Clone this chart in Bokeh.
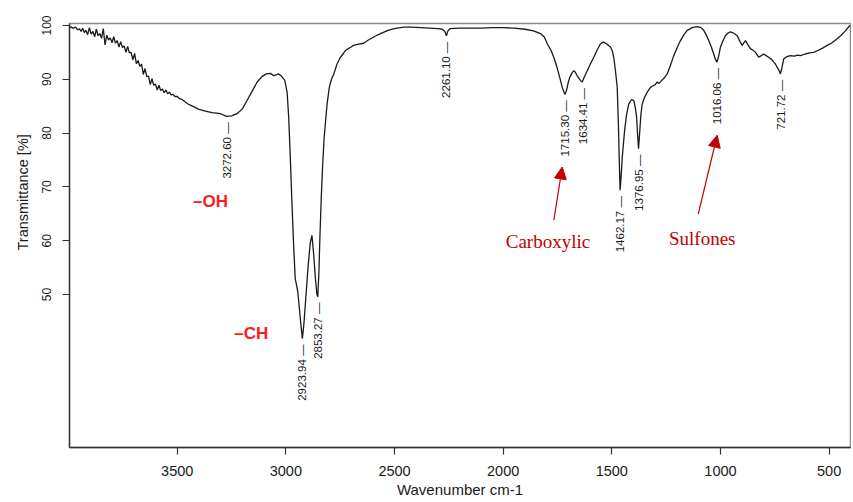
import math
from bokeh.plotting import figure
from bokeh.models import Range1d, FixedTicker, Title, Arrow, NormalHead, ColumnDataSource
from bokeh.embed import file_html
from bokeh.resources import INLINE
from bokeh.core.properties import value

# ---------------- data ----------------
wavenumber = [
    3994, 3980, 3968, 3958, 3950, 3942, 3935, 3928, 3920, 3912, 3904, 3896, 3888, 3880,
    3872, 3864, 3856, 3848, 3840, 3832, 3824, 3816, 3808, 3800, 3792, 3784, 3776, 3768,
    3760, 3752, 3744, 3736, 3728, 3720, 3712, 3704, 3696, 3688, 3680, 3672, 3664, 3656,
    3648, 3640, 3632, 3624, 3616, 3608, 3600, 3592, 3584, 3576, 3568, 3560, 3552, 3544,
    3536, 3528, 3520, 3510, 3500, 3490, 3480, 3470, 3460, 3450, 3430, 3400, 3370, 3340,
    3300, 3273, 3250, 3225, 3200, 3178, 3155, 3132, 3110, 3090, 3071, 3057, 3045, 3035,
    3020, 3005, 2994, 2987, 2980, 2972, 2964, 2957, 2951, 2945, 2938, 2931, 2924, 2917,
    2908, 2898, 2888, 2880, 2872, 2864, 2857, 2853, 2848, 2843, 2837, 2831, 2824, 2817,
    2810, 2800, 2790, 2779, 2765, 2749, 2735, 2725, 2712, 2700, 2689, 2670, 2643, 2620,
    2590, 2564, 2530, 2500, 2458, 2420, 2380, 2340, 2300, 2280, 2268, 2261, 2254, 2245,
    2200, 2150, 2100, 2050, 2000, 1950, 1900, 1860, 1828, 1810, 1797, 1780, 1767, 1755,
    1744, 1735, 1728, 1720, 1715, 1708, 1700, 1693, 1683, 1675, 1668, 1660, 1648, 1640,
    1636, 1628, 1613, 1598, 1583, 1568, 1552, 1545, 1537, 1525, 1515, 1506, 1498, 1491,
    1483, 1475, 1470, 1465, 1462, 1457, 1451, 1441, 1432, 1422, 1410, 1399, 1392, 1386,
    1381, 1377, 1372, 1366, 1360, 1350, 1337, 1322, 1314, 1300, 1291, 1284, 1270, 1258,
    1245, 1230, 1215, 1200, 1184, 1168, 1153, 1130, 1107, 1090, 1077, 1066, 1054, 1042,
    1031, 1022, 1016, 1010, 1000, 988, 977, 965, 953, 940, 923, 910, 900, 892,
    885, 875, 862, 850, 839, 824, 812, 801, 790, 778, 765, 755, 748, 740,
    730, 724, 718, 709, 695, 678, 660, 645, 632, 610, 590, 571, 550, 530,
    509, 490, 470, 447, 425, 405,
]
transmittance = [
    99.8, 99.5, 99.7, 99.2, 99.4, 98.9, 99.5, 98.7, 99.1, 98.3, 99.6, 98.4, 98.9, 97.9,
    99.3, 98.1, 98.5, 97.6, 99.4, 96.4, 98.2, 97.3, 97.7, 96.8, 97.9, 96.7, 97.2, 96.0,
    97.0, 95.9, 96.2, 95.0, 96.1, 94.9, 95.0, 93.6, 94.8, 92.9, 93.5, 92.4, 92.8, 90.9,
    92.0, 90.5, 90.6, 89.0, 90.1, 88.9, 89.1, 88.0, 88.9, 87.9, 88.2, 87.5, 88.0, 87.3,
    87.6, 87.1, 87.2, 86.8, 86.8, 86.4, 86.3, 86.0, 85.7, 85.4, 85.0, 84.4, 84.1, 83.8,
    83.6, 83.1, 83.2, 83.6, 84.5, 86.1, 87.8, 89.5, 90.5, 91.0, 91.1, 90.7, 90.8, 91.0,
    90.6, 89.8, 87.5, 83.0, 76.0, 67.0, 59.0, 53.0, 51.8, 50.5, 47.5, 44.5, 41.8, 44.5,
    49.5, 55.0, 59.5, 61.0, 57.5, 53.0, 50.0, 49.6, 54.0, 61.0, 68.0, 73.7, 79.0, 82.3,
    85.5, 88.5, 90.0, 91.0, 92.8, 94.1, 94.8, 95.4, 95.7, 96.0, 96.3, 96.5, 96.7, 97.3,
    98.0, 98.5, 99.1, 99.4, 99.7, 99.7, 99.6, 99.5, 99.4, 99.3, 98.9, 98.1, 99.0, 99.4,
    99.5, 99.5, 99.5, 99.6, 99.6, 99.5, 99.3, 99.0, 98.5, 97.8, 96.6, 95.4, 94.1, 92.6,
    91.0, 89.6, 88.5, 87.6, 87.2, 88.0, 89.5, 90.4, 91.2, 91.6, 91.3, 90.7, 90.0, 89.6,
    89.5, 90.3, 91.6, 92.9, 94.1, 95.4, 96.6, 96.8, 96.9, 96.6, 96.3, 96.0, 95.3, 94.1,
    91.5, 88.5, 82.0, 74.0, 69.4, 72.0, 76.0, 80.5, 83.5, 85.4, 86.2, 86.1, 84.8, 83.0,
    79.5, 77.1, 80.0, 83.5, 85.4, 86.6, 87.6, 88.5, 88.7, 89.0, 89.5, 89.2, 89.8, 90.3,
    91.0, 92.6, 94.4, 95.8, 97.2, 98.3, 99.1, 99.6, 99.8, 99.6, 99.1, 98.3, 97.2, 96.0,
    94.7, 93.6, 93.2, 94.0, 96.0, 97.2, 98.1, 98.6, 98.8, 98.6, 98.1, 97.0, 96.3, 96.8,
    97.2, 96.5, 95.7, 95.4, 95.0, 94.1, 94.4, 94.7, 94.4, 94.1, 93.7, 93.2, 92.9, 92.3,
    91.6, 91.0, 92.0, 93.8, 94.2, 94.4, 94.3, 94.5, 94.4, 94.7, 94.9, 95.0, 95.4, 95.8,
    96.3, 96.7, 97.3, 98.1, 99.0, 100.0,
]

peak_wn = [3272.60, 2923.94, 2853.27, 2261.10, 1715.30, 1634.41, 1462.17, 1376.95, 1016.06, 721.72]
peak_t = [83.1, 41.8, 49.6, 98.1, 87.2, 89.5, 69.4, 77.1, 93.2, 91.0]
peak_labels = ["3272.60", "2923.94", "2853.27", "2261.10", "1715.30",
               "1634.41", "1462.17", "1376.95", "1016.06", "721.72"]

group_labels = ["\u2013OH", "\u2013CH"]
group_wn = [3347, 3159]
group_t = [67.2, 42.7]

band_labels = ["Carboxylic", "Sulfones"]
band_wn = [1794, 1084]
band_t = [59.9, 60.4]
arrow_tail_wn = [1767, 1102]
arrow_tail_t = [63.8, 65.0]
arrow_head_wn = [1728, 1015]
arrow_head_t = [73.7, 79.6]

x_ticks = [3500, 3000, 2500, 2000, 1500, 1000, 500]
y_ticks = [50, 60, 70, 80, 90, 100]

FONT = "Liberation Sans"

# ---------------- figure ----------------
p = figure(width=851, height=500, output_backend="svg", toolbar_location=None,
           x_range=Range1d(3995.6, 401.6), y_range=Range1d(21.56, 100.37),
           min_border_left=69, min_border_right=1, min_border_top=23, min_border_bottom=53)
p.grid.visible = False
p.outline_line_color = "#8a8a8a"
p.outline_line_width = 1.5
p.background_fill_color = "white"
p.border_fill_color = "white"

for ax in (p.xaxis[0], p.yaxis[0]):
    ax.axis_line_color = "#333333"
    ax.axis_line_width = 1.3
    ax.major_tick_line_color = "#333333"
    ax.major_tick_line_width = 1.2
    ax.major_tick_out = 7
    ax.major_tick_in = 0
    ax.minor_tick_line_color = None
    ax.major_label_text_font = FONT
    ax.major_label_text_color = "#1a1a1a"

p.xaxis.ticker = FixedTicker(ticks=x_ticks)
p.xaxis.major_label_text_font_size = "14.5px"
p.xaxis.major_label_standoff = 11
p.xaxis.axis_label = "Wavenumber cm-1"
p.xaxis.axis_label_text_font = FONT
p.xaxis.axis_label_text_font_style = "normal"
p.xaxis.axis_label_text_font_size = "15px"
p.xaxis.axis_label_text_color = "#1a1a1a"
p.xaxis.axis_label_standoff = 2

p.yaxis.ticker = FixedTicker(ticks=y_ticks)
p.yaxis.major_label_text_font_size = "12px"
p.yaxis.major_label_orientation = "vertical"
p.yaxis.major_label_standoff = 11

# y axis title, placed beside the tick range as in the reference
p.add_layout(Title(text="Transmittance [%]", align="left", offset=197, standoff=18,
                   text_font=FONT, text_font_size="14.5px", text_font_style="normal",
                   text_color="#1a1a1a"), "left")

# spectrum
p.line(wavenumber, transmittance, line_color="#1a1a1a", line_width=1.3)

# peak labels
peak_src = ColumnDataSource(dict(
    x=peak_wn,
    y=[t - 1.1 for t in peak_t],
    text=[lab + " \u2014" for lab in peak_labels],
))
p.text(x="x", y="y", text="text", source=peak_src, angle=math.pi / 2,
       text_align="right", text_baseline="middle",
       text_font=value(FONT), text_font_size="11.5px", text_color="#1a1a1a")

# functional group labels
p.text(x=group_wn, y=group_t, text=group_labels, text_align="center", text_baseline="middle",
       text_font=value(FONT), text_font_style="bold", text_font_size="17px", text_color="#ff1a1a")

# band labels and arrows
p.text(x=band_wn, y=band_t, text=band_labels, text_align="center", text_baseline="middle",
       text_font=value("Liberation Serif"), text_font_size="19px", text_color="#c00000")
arrow_src = ColumnDataSource(dict(xs=arrow_tail_wn, ys=arrow_tail_t, xe=arrow_head_wn, ye=arrow_head_t))
p.add_layout(Arrow(end=NormalHead(size=12, fill_color="#c00000", line_color="#c00000"),
                   x_start="xs", y_start="ys", x_end="xe", y_end="ye", source=arrow_src,
                   line_color="#c00000", line_width=1.2))

open("out.html", "w").write(file_html(p, INLINE))
